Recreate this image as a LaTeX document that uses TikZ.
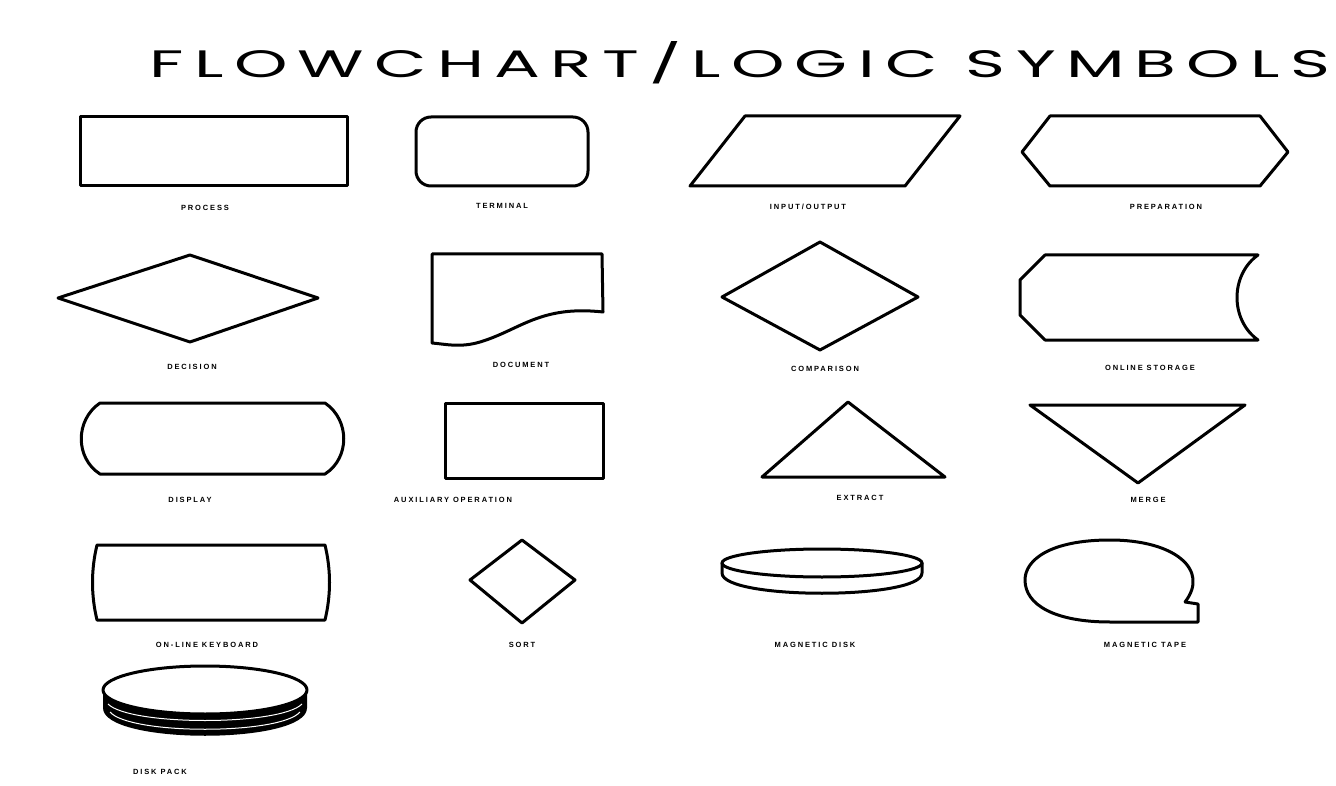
\documentclass[tikz,border=0pt]{standalone}
\usepackage{fontspec}
\setmainfont{Liberation Sans}
\newfontfamily\titlefont[LetterSpace=15]{Poppins}
\newfontfamily\labfont[LetterSpace=25]{Liberation Sans}
\begin{document}
\begin{tikzpicture}[x=1pt,y=-1pt,
  sym/.style={line width=3pt,line join=round,line cap=round,black},
  lab/.style={font=\labfont\bfseries\fontsize{7.5}{8}\selectfont,inner sep=0pt,anchor=center}]
\useasboundingbox[fill=white] (0,0) rectangle (1336,786);
\node[anchor=base,inner sep=0pt] (title) at (740,78) {\resizebox{1180pt}{36pt}{\titlefont\fontsize{40}{48}\selectfont FLOWCHART/LOGIC SYMBOLS}};
% Row 1
\draw[sym] (80,117) rectangle (347,186);
\node[lab] (l1) at (205,208) {PROCESS};
\draw[sym,rounded corners=15pt] (416,117) rectangle (588,186);
\node[lab] (l2) at (502,206) {TERMINAL};
\draw[sym] (745,116) -- (960,116) -- (905,186) -- (690,186) -- cycle;
\node[lab] (l3) at (808,207) {INPUT/OUTPUT};
\draw[sym] (1022,152) -- (1050,116) -- (1260,116) -- (1288,152) -- (1260,186) -- (1050,186) -- cycle;
\node[lab] (l4) at (1166,207) {PREPARATION};
% Row 2
\draw[sym] (58,298) -- (190,255) -- (318,298) -- (190,342) -- cycle;
\node[lab] (l5) at (192,367) {DECISION};
\draw[sym] (432,254) -- (602,254) -- (603,312) .. controls (540,305) and (520,330) .. (480,342) .. controls (460,348) and (445,344) .. (432,343) -- cycle;
\node[lab] (l6) at (521,365) {DOCUMENT};
\draw[sym] (722,297) -- (820,242) -- (918,297) -- (820,350) -- cycle;
\node[lab] (l7) at (825,369) {COMPARISON};
\draw[sym] (1045,255) -- (1258,255) .. controls (1230,275) and (1230,320) .. (1258,340) -- (1045,340) -- (1020,315) -- (1020,280) -- cycle;
\node[lab] (l8) at (1150,368) {ONLINE STORAGE};
% Row 3
\draw[sym] (100,403) -- (325,403) .. controls (350,420) and (350,458) .. (325,474) -- (100,474) .. controls (75,458) and (75,420) .. (100,403) -- cycle;
\node[lab] (l9) at (190,500) {DISPLAY};
\draw[sym] (445,403) rectangle (603,478);
\node[lab] (l10) at (453,500) {AUXILIARY OPERATION};
\draw[sym] (762,477) -- (848,402) -- (945,477) -- cycle;
\node[lab] (l11) at (860,498) {EXTRACT};
\draw[sym] (1030,405) -- (1245,405) -- (1138,483) -- cycle;
\node[lab] (l12) at (1148,500) {MERGE};
% Row 4
\draw[sym] (97,545) -- (325,545) .. controls (331,570) and (331,595) .. (325,620) -- (97,620) .. controls (91,595) and (91,570) .. (97,545) -- cycle;
\node[lab] (l13) at (207,645) {ON-LINE KEYBOARD};
\draw[sym] (470,580) -- (522,540) -- (575,580) -- (522,623) -- cycle;
\node[lab] (l14) at (522,645) {SORT};
\draw[sym] (822,563) ellipse [x radius=100, y radius=14];
\draw[sym] (722,563) -- (722,573) .. controls (722,600) and (922,600) .. (922,573) -- (922,563);
\node[lab] (l15) at (815,645) {MAGNETIC DISK};
\draw[sym] (1185,602) .. controls (1210,570) and (1175,540) .. (1110,540) .. controls (1050,540) and (1025,560) .. (1025,580) .. controls (1025,605) and (1055,622) .. (1110,622) -- (1198,622) -- (1198,604) -- (1185,602);
\node[lab] (l16) at (1145,645) {MAGNETIC TAPE};
% Row 5
\fill[black] (103,692) -- (103,708) .. controls (103,745) and (307,745) .. (307,708) -- (307,692) -- cycle;
\draw[white,line width=1pt] (110,712) .. controls (130,735) and (280,735) .. (300,712);
\draw[white,line width=1pt] (108,704) .. controls (130,726) and (280,726) .. (302,704);
\draw[sym,fill=white] (205,690) ellipse [x radius=102, y radius=24];
\node[lab] (l17) at (160,772) {DISK PACK};
\end{tikzpicture}
\end{document}
